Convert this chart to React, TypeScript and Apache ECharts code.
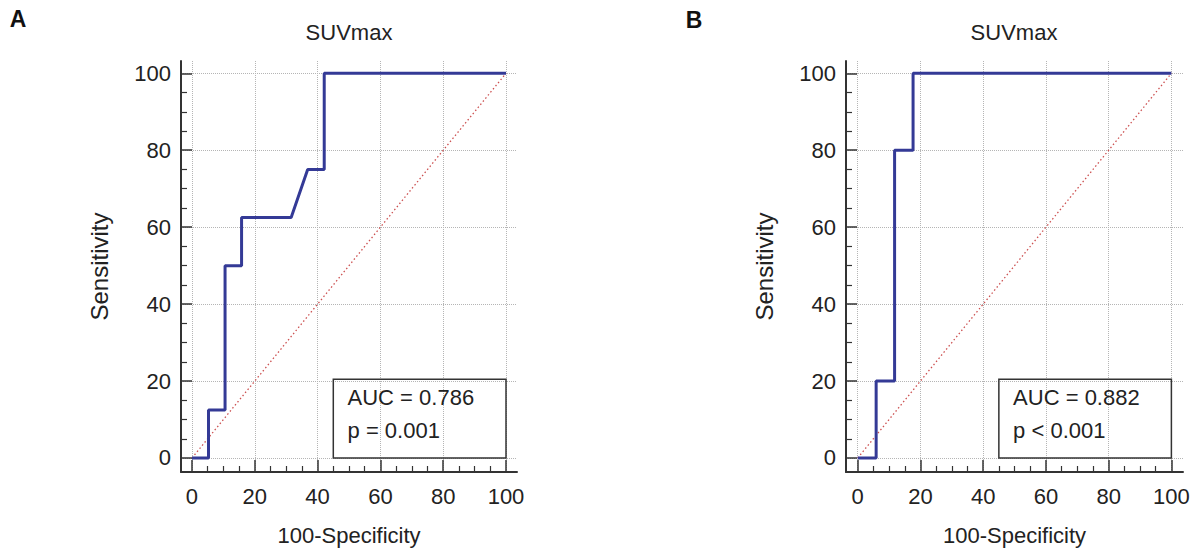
import React, { useEffect, useRef } from "react";
import * as echarts from "echarts";

// ROC curve A (100-Specificity vs Sensitivity)
const fprA = [0, 5.26, 5.26, 10.53, 10.53, 15.79, 15.79, 31.58, 36.84, 42.11, 42.11, 100];
const tprA = [0, 0, 12.5, 12.5, 50, 50, 62.5, 62.5, 75, 75, 100, 100];
// ROC curve B
const fprB = [0, 5.88, 5.88, 11.76, 11.76, 17.65, 17.65, 100];
const tprB = [0, 0, 20, 20, 80, 80, 100, 100];
// Reference diagonal
const diagX = [0, 100];
const diagY = [0, 100];
// Tick labels
const tickValues = [0, 20, 40, 60, 80, 100];
const panelLetters = ["A", "B"];
const titles = ["SUVmax", "SUVmax"];
const aucTexts = ["AUC = 0.786\np = 0.001", "AUC = 0.882\np < 0.001"];
const aucBoxX = [45, 100];
const aucBoxY = [0, 20.5];

const FONT = "'Liberation Sans', Arial, Helvetica, sans-serif";
const TEXT = "#222222";
const AXIS = "#333333";
const CURVE = "#343a96";
const DIAG = "#cc5050";
const GRIDC = "#b5b5b5";

function zip(xs: number[], ys: number[]) {
  return xs.map((x, i) => [x, ys[i]]);
}

function makeX(gridIndex: number, min: number, max: number) {
  return {
    type: "value",
    gridIndex,
    min,
    max,
    minInterval: 20,
    maxInterval: 20,
    name: "100-Specificity",
    nameLocation: "middle",
    nameGap: 52,
    nameTextStyle: { fontFamily: FONT, fontSize: 22, color: TEXT },
    axisLine: { show: true, onZero: false, lineStyle: { color: AXIS, width: 2 } },
    axisTick: {
      show: true,
      inside: true,
      length: 12,
      customValues: tickValues,
      lineStyle: { color: AXIS, width: 1.5 },
    },
    minorTick: {
      show: true,
      splitNumber: 4,
      length: 6,
      lineStyle: { color: AXIS, width: 1.2 },
    },
    axisLabel: {
      customValues: tickValues,
      margin: 13,
      fontFamily: FONT,
      fontSize: 22,
      color: TEXT,
      formatter: (v: number) => (Math.abs(v % 20) < 1e-6 ? String(v) : ""),
    },
    splitLine: {
      show: true,
      lineStyle: { color: GRIDC, width: 1, type: "dotted" },
    },
  };
}

function makeY(gridIndex: number) {
  return {
    type: "value",
    gridIndex,
    min: -3.64,
    max: 103.2,
    minInterval: 20,
    maxInterval: 20,
    name: "Sensitivity",
    nameLocation: "middle",
    nameGap: 70,
    nameTextStyle: { fontFamily: FONT, fontSize: 24, color: TEXT },
    axisLine: { show: true, onZero: false, lineStyle: { color: AXIS, width: 2 } },
    axisTick: {
      show: true,
      inside: true,
      length: 11,
      customValues: tickValues,
      lineStyle: { color: AXIS, width: 1.5 },
    },
    minorTick: {
      show: true,
      splitNumber: 4,
      length: 6,
      lineStyle: { color: AXIS, width: 1.2 },
    },
    axisLabel: {
      customValues: tickValues,
      margin: 10,
      padding: [6, 0, 0, 0],
      fontFamily: FONT,
      fontSize: 22,
      color: TEXT,
      formatter: (v: number) => (Math.abs(v % 20) < 1e-6 ? String(v) : ""),
    },
    splitLine: {
      show: true,
      lineStyle: { color: GRIDC, width: 1, type: "dotted" },
    },
  };
}

function rocSeries(idx: number, xs: number[], ys: number[]) {
  return {
    type: "line",
    xAxisIndex: idx,
    yAxisIndex: idx,
    data: zip(xs, ys),
    showSymbol: false,
    symbol: "none",
    z: 5,
    lineStyle: { color: CURVE, width: 3 },
    markArea: {
      silent: true,
      itemStyle: { color: "rgba(0,0,0,0)", borderColor: AXIS, borderWidth: 1.5 },
      label: {
        show: true,
        position: "insideTopLeft",
        distance: 5,
        offset: [10, -2],
        formatter: aucTexts[idx],
        fontFamily: FONT,
        fontSize: 22,
        lineHeight: 33,
        color: TEXT,
      },
      data: [[{ coord: [aucBoxX[0], aucBoxY[0]] }, { coord: [aucBoxX[1], aucBoxY[1]] }]],
    },
  };
}

function diagSeries(idx: number) {
  return {
    type: "line",
    xAxisIndex: idx,
    yAxisIndex: idx,
    data: zip(diagX, diagY),
    showSymbol: false,
    symbol: "none",
    z: 3,
    lineStyle: { color: DIAG, width: 1.3, type: [1.5, 2.5] },
  };
}

export default function App() {
  const ref = useRef<HTMLDivElement>(null);
  useEffect(() => {
    if (!ref.current) return;
    const chart = echarts.init(ref.current, undefined, { renderer: "svg" });
    chart.setOption({
      animation: false,
      backgroundColor: "#ffffff",
      title: [
        {
          text: titles[0],
          left: 349,
          top: 21,
          textAlign: "center",
          padding: 0,
          textStyle: { fontFamily: FONT, fontSize: 22, fontWeight: "normal", color: TEXT },
        },
        {
          text: titles[1],
          left: 1014,
          top: 21,
          textAlign: "center",
          padding: 0,
          textStyle: { fontFamily: FONT, fontSize: 22, fontWeight: "normal", color: TEXT },
        },
      ],
      grid: [
        { left: 181, top: 61, width: 336, height: 411, outerBoundsMode: "none", containLabel: false },
        { left: 846, top: 61, width: 337, height: 411, outerBoundsMode: "none", containLabel: false },
      ],
      xAxis: [makeX(0, -3.5, 103.5), makeX(1, -3.73, 103.7)],
      yAxis: [makeY(0), makeY(1)],
      series: [
        diagSeries(0),
        rocSeries(0, fprA, tprA),
        diagSeries(1),
        rocSeries(1, fprB, tprB),
      ],
      graphic: [
        {
          type: "text",
          x: 18,
          y: 19,
          style: {
            text: panelLetters[0],
            fontFamily: FONT,
            fontSize: 23,
            fontWeight: "bold",
            fill: "#111",
            align: "center",
            verticalAlign: "middle",
          },
        },
        {
          type: "text",
          x: 694,
          y: 20,
          style: {
            text: panelLetters[1],
            fontFamily: FONT,
            fontSize: 23,
            fontWeight: "bold",
            fill: "#111",
            align: "center",
            verticalAlign: "middle",
          },
        },
      ],
    });
    return () => chart.dispose();
  }, []);
  return (
    <div
      ref={ref}
      style={{ position: "absolute", left: 0, top: 0, width: 1191, height: 553 }}
    />
  );
}
